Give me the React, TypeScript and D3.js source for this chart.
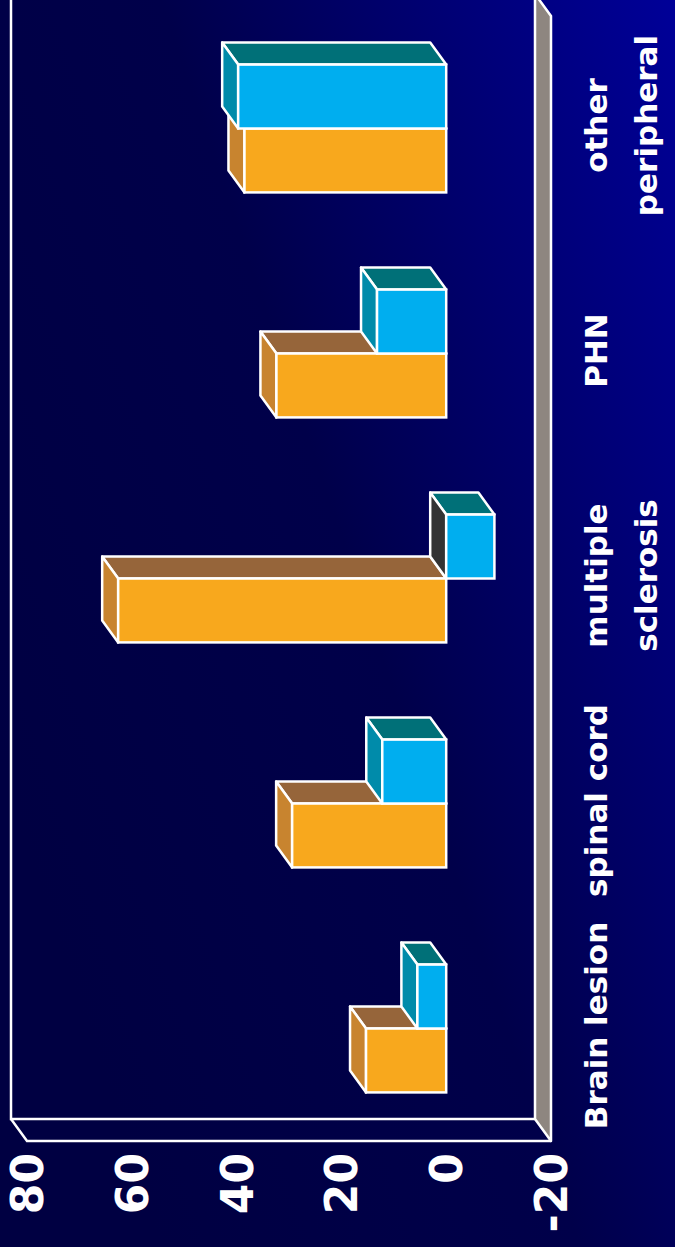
import React from "react";
import * as d3 from "d3";

const categories = ["Brain lesion", "spinal cord", "multiple sclerosis", "PHN", "other peripheral"];
const categoryLines = [["Brain lesion"], ["spinal cord"], ["multiple", "sclerosis"], ["PHN"], ["other", "peripheral"]];
const orangeValues = [15.3, 29.4, 62.6, 32.4, 38.5];
const blueValues = [5.5, 12.2, -9.2, 13.2, 39.7];
const tickValues = [80, 60, 40, 20, 0, -20];
const tickLabels = ["80", "60", "40", "20", "0", "-20"];

const W = 675;
const H = 1247;
const DX = -16;
const DY = -22;

const seriesDefs = [
  { key: "orange", values: orangeValues, front: "#F8A81D", end: "#C8842F", top: "#96653A", base: "#7a5a30" },
  { key: "blue", values: blueValues, front: "#00AEEF", end: "#008BAA", top: "#007078", base: "#333333" },
];

export default function App() {
  const x = d3.scaleLinear().domain([-20, 80]).range([551, 27]);
  const y = d3.scaleBand<string>().domain(categories).range([1141, 16]);
  const inner = d3
    .scaleBand<string>()
    .domain(["blue", "orange"])
    .range([0, y.bandwidth()])
    .paddingInner(0)
    .paddingOuter(0.76);

  const x80 = x(80);
  const xm20 = x(-20);
  const floorTop = 16;
  const floorBottom = 1141;

  const pts = (arr: number[][]) => arr.map((p) => p.join(",")).join(" ");

  const bars: React.ReactNode[] = [];
  categories.forEach((cat, ci) => {
    seriesDefs.forEach((s) => {
      const v = s.values[ci];
      const y0 = (y(cat) as number) + (inner(s.key) as number);
      const y1 = y0 + inner.bandwidth();
      const xa = x(0);
      const xb = x(v);
      const left = Math.min(xa, xb);
      const right = Math.max(xa, xb);
      const leftColor = v >= 0 ? s.end : s.base;
      bars.push(
        <g key={cat + s.key}>
          <polygon
            points={pts([[left, y0], [right, y0], [right + DX, y0 + DY], [left + DX, y0 + DY]])}
            fill={s.top}
            stroke="#fff"
            strokeWidth={2.5}
            strokeLinejoin="round"
          />
          <polygon
            points={pts([[left, y0], [left, y1], [left + DX, y1 + DY], [left + DX, y0 + DY]])}
            fill={leftColor}
            stroke="#fff"
            strokeWidth={2.5}
            strokeLinejoin="round"
          />
          <rect x={left} y={y0} width={right - left} height={y1 - y0} fill={s.front} stroke="#fff" strokeWidth={2.5} />
        </g>
      );
    });
  });

  return (
    <svg
      width={W}
      height={H}
      viewBox={`0 0 ${W} ${H}`}
      style={{ position: "absolute", left: 0, top: 0, display: "block" }}
    >
      <defs>
        <linearGradient id="bg" x1="0" y1="0.62" x2="1" y2="0" gradientUnits="objectBoundingBox">
          <stop offset="0" stopColor="#000042" />
          <stop offset="0.45" stopColor="#00004a" />
          <stop offset="1" stopColor="#000098" />
        </linearGradient>
      </defs>
      <rect x={0} y={0} width={W} height={H} fill="url(#bg)" />

      {/* back wall + side wall frame */}
      <polyline
        points={pts([[x80 + DX, -10], [x80 + DX, floorBottom + DY], [xm20 + DX, floorBottom + DY]])}
        fill="none"
        stroke="#fff"
        strokeWidth={2.5}
      />
      <polyline
        points={pts([[x80 + DX, floorBottom + DY], [x80, floorBottom], [xm20, floorBottom]])}
        fill="none"
        stroke="#fff"
        strokeWidth={2.5}
      />
      {/* floor strip */}
      <polygon
        points={pts([[xm20 + DX, floorTop + DY], [xm20, floorTop], [xm20, floorBottom], [xm20 + DX, floorBottom + DY]])}
        fill="#8E8680"
        stroke="#fff"
        strokeWidth={2.5}
        strokeLinejoin="round"
      />

      {bars}

      {/* value tick labels */}
      {tickValues.map((t, i) => (
        <text
          key={t}
          transform={`translate(${x(t) + 16},1153) rotate(-90)`}
          textAnchor="end"
          fill="#fff"
          fontFamily="'DejaVu Sans', sans-serif"
          fontWeight="bold"
          fontSize={44}
        >
          {tickLabels[i]}
        </text>
      ))}

      {/* category labels */}
      {categories.map((cat, ci) => {
        const cy = (y(cat) as number) + y.bandwidth() / 2 - 3;
        return categoryLines[ci].map((line, li) => (
          <text
            key={cat + li}
            transform={`translate(${607 + li * 50},${cy}) rotate(-90)`}
            textAnchor="middle"
            fill="#fff"
            fontFamily="'DejaVu Sans', sans-serif"
            fontWeight="bold"
            fontSize={31}
          >
            {line}
          </text>
        ));
      })}
    </svg>
  );
}
